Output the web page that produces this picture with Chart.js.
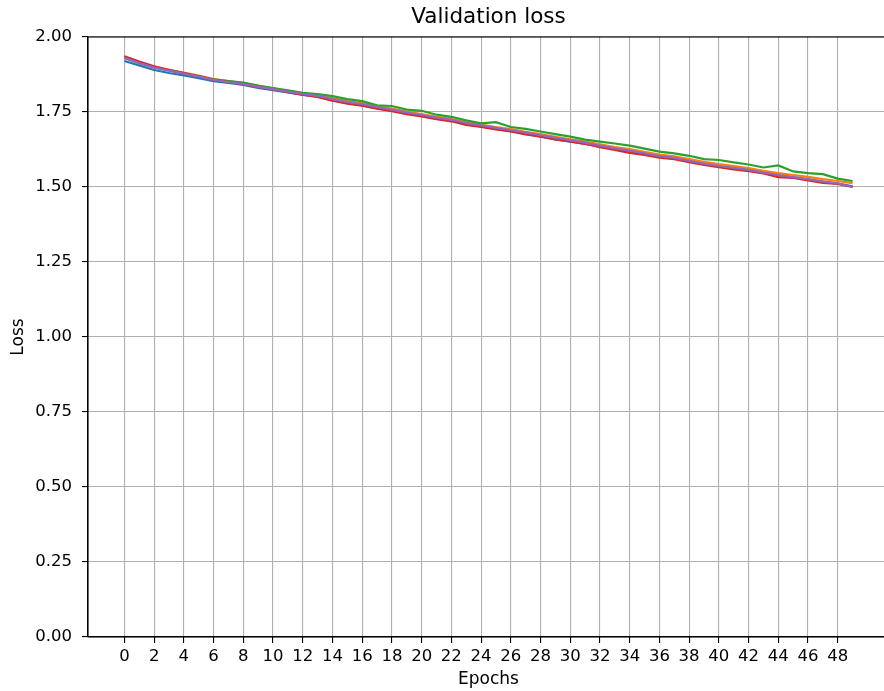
<!DOCTYPE html>
<html>
<head>
<meta charset="utf-8">
<script src="https://cdn.jsdelivr.net/npm/chart.js@4.4.1/dist/chart.umd.min.js"></script>
<style>
  html, body { margin: 0; padding: 0; background: #fff; overflow: hidden; }
  #wrap { width: 892px; height: 691px; }
</style>
</head>
<body>
<div id="wrap"><canvas id="c" width="892" height="691"></canvas></div>
<script>
const epochs = Array.from({length: 50}, (_, i) => i);
const xTicks = [0,2,4,6,8,10,12,14,16,18,20,22,24,26,28,30,32,34,36,38,40,42,44,46,48];
const yTicks = [0, 0.25, 0.5, 0.75, 1.0, 1.25, 1.5, 1.75, 2.0];
const yTickLabels = ['0.00','0.25','0.50','0.75','1.00','1.25','1.50','1.75','2.00'];

const lossBlue = [1.920,1.905,1.890,1.880,1.872,1.863,1.853,1.847,1.840,1.830,1.823,1.815,1.807,1.801,1.789,1.780,1.772,1.762,1.755,1.745,1.737,1.728,1.721,1.710,1.702,1.694,1.686,1.678,1.669,1.659,1.651,1.644,1.635,1.627,1.619,1.610,1.602,1.596,1.586,1.577,1.569,1.563,1.556,1.548,1.540,1.533,1.525,1.518,1.511,1.502];
const lossOrange = [1.932,1.915,1.900,1.890,1.881,1.871,1.860,1.853,1.846,1.837,1.829,1.820,1.812,1.806,1.796,1.786,1.779,1.769,1.761,1.751,1.743,1.734,1.727,1.716,1.708,1.700,1.693,1.684,1.676,1.667,1.659,1.651,1.642,1.633,1.626,1.617,1.608,1.602,1.593,1.584,1.576,1.570,1.563,1.554,1.546,1.540,1.534,1.526,1.520,1.513];
const lossGreen = [1.930,1.913,1.899,1.889,1.879,1.869,1.859,1.853,1.848,1.838,1.830,1.822,1.814,1.810,1.803,1.793,1.786,1.772,1.770,1.758,1.754,1.741,1.734,1.722,1.712,1.716,1.700,1.694,1.685,1.676,1.668,1.658,1.651,1.645,1.638,1.628,1.618,1.612,1.604,1.593,1.590,1.582,1.575,1.565,1.572,1.552,1.546,1.543,1.528,1.520];
const lossRed = [1.936,1.918,1.902,1.891,1.880,1.869,1.858,1.850,1.842,1.833,1.825,1.816,1.808,1.800,1.788,1.778,1.771,1.761,1.753,1.743,1.735,1.726,1.719,1.707,1.700,1.692,1.685,1.675,1.668,1.659,1.652,1.644,1.633,1.624,1.614,1.607,1.598,1.593,1.583,1.574,1.566,1.559,1.553,1.545,1.533,1.530,1.522,1.514,1.510,1.500];
const lossPurple = [1.931,1.913,1.898,1.888,1.878,1.868,1.857,1.850,1.843,1.834,1.826,1.818,1.810,1.804,1.793,1.783,1.776,1.766,1.758,1.748,1.740,1.731,1.724,1.713,1.705,1.697,1.690,1.681,1.673,1.664,1.656,1.648,1.638,1.629,1.621,1.612,1.603,1.597,1.587,1.578,1.570,1.564,1.557,1.548,1.540,1.533,1.526,1.518,1.512,1.501];

const series = [lossBlue, lossOrange, lossGreen, lossRed, lossPurple];
const colors = ['#1f77b4', '#ff7f0e', '#2ca02c', '#d62728', '#9467bd'];

const FONT = 'DejaVu Sans';

const frame = {
  id: 'frame',
  afterDatasetsDraw(chart) {
    const a = chart.chartArea, ctx = chart.ctx;
    ctx.save();
    ctx.strokeStyle = '#000';
    ctx.lineWidth = 1.1;
    ctx.strokeRect(a.left, a.top, a.right - a.left, a.bottom - a.top);
    ctx.restore();
  }
};

new Chart(document.getElementById('c'), {
  type: 'line',
  data: {
    datasets: series.map((s, k) => ({
      data: epochs.map((e, i) => ({x: e, y: s[i]})),
      borderColor: colors[k],
      backgroundColor: colors[k],
      borderWidth: 2.2,
      pointRadius: 0,
      tension: 0,
      fill: false,
      order: series.length - 1 - k
    }))
  },
  options: {
    responsive: false,
    animation: false,
    devicePixelRatio: 1,
    layout: { padding: { left: 0, right: 3, top: 0, bottom: 0 } },
    plugins: {
      legend: { display: false },
      tooltip: { enabled: false },
      title: { display: false }
    },
    scales: {
      x: {
        type: 'linear',
        min: -2.45,
        max: 51.45,
        afterBuildTicks: (sc) => { sc.ticks = xTicks.map(v => ({value: v})); },
        afterFit: (sc) => { sc.height = 54; },
        ticks: {
          color: '#000',
          font: { family: FONT, size: 16.5 },
          padding: 4,
          maxRotation: 0,
          autoSkip: false,
          callback: (v) => String(v)
        },
        grid: { color: '#b0b0b0', lineWidth: 1.1, tickColor: '#000', tickLength: 6, tickWidth: 1.1 },
        border: { display: true, color: '#000', width: 1.1 },
        title: {
          display: true, text: 'Epochs', color: '#000',
          font: { family: FONT, size: 17 },
          padding: { top: 0, bottom: 1 }
        }
      },
      xTop: {
        type: 'linear',
        position: 'top',
        display: true,
        afterFit: (sc) => { sc.height = 37; },
        ticks: { display: false },
        grid: { display: false, drawTicks: false },
        border: { display: false },
        title: {
          display: true, text: 'Validation loss', color: '#000',
          font: { family: FONT, size: 21.5 },
          padding: { top: 5, bottom: 0 }
        }
      },
      y: {
        min: 0,
        max: 2,
        afterBuildTicks: (sc) => { sc.ticks = yTicks.map(v => ({value: v})); },
        afterFit: (sc) => { sc.width = 88; },
        ticks: {
          color: '#000',
          font: { family: FONT, size: 16.5 },
          padding: 10,
          autoSkip: false,
          callback: (v) => { const i = yTicks.indexOf(v); return i >= 0 ? yTickLabels[i] : ''; }
        },
        grid: { color: '#b0b0b0', lineWidth: 1.1, tickColor: '#000', tickLength: 6, tickWidth: 1.1 },
        border: { display: true, color: '#000', width: 1.1 },
        title: {
          display: true, text: 'Loss', color: '#000',
          font: { family: FONT, size: 17 },
          padding: { top: 8, bottom: 0 }
        }
      }
    }
  },
  plugins: [frame]
});
</script>
</body>
</html>
